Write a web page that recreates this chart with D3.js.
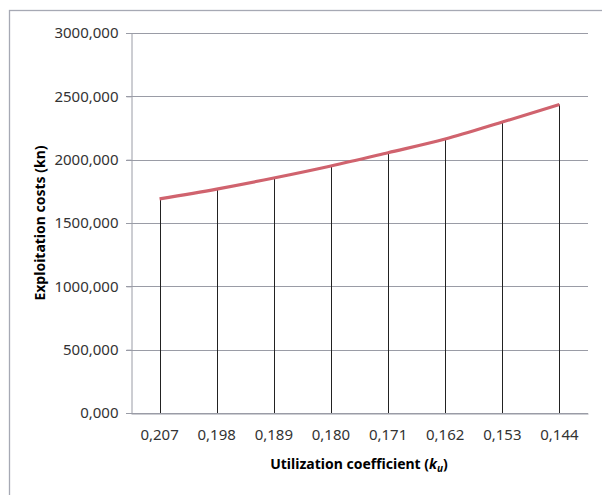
<!DOCTYPE html>
<html>
  <head>
    <meta charset="UTF-8">
    <style>
      body {
        margin: 0;
        background: white;
        font-family: "Noto Sans", sans-serif;
      }
      .title {
        fill: #000;
        font-size: 14px;
        font-weight: bold;
      }
    </style>
    <script src="https://d3js.org/d3.v7.min.js"></script>
  </head>
  <body>
    <svg id="chart"></svg>
    <script type="text/javascript">
      let categories = ['0,207', '0,198', '0,189', '0,180', '0,171', '0,162', '0,153', '0,144']
      let costs = [1690, 1768, 1855, 1950, 2055, 2163, 2297, 2435]
      let yTicks = [0, 500, 1000, 1500, 2000, 2500, 3000]

      let width = 602
      let height = 495
      let margin = { top: 33, left: 131, right: 14, bottom: 82 }

      let svg = d3.select('#chart')
        .attr('width', width)
        .attr('height', height)

      // outer frame
      svg.append('rect')
        .attr('x', 9.5)
        .attr('y', 10.5)
        .attr('width', 620)
        .attr('height', 520)
        .attr('fill', 'none')
        .attr('stroke', '#a6a9b4')
        .attr('stroke-width', 1.3)

      let x = d3.scaleBand()
        .domain(categories)
        .range([margin.left, width - margin.right])

      let y = d3.scaleLinear()
        .domain([0, 3000])
        .range([height - margin.bottom, margin.top])

      let fmt = d => d3.format('.3f')(d).replace('.', ',')

      // gridlines
      svg.append('g')
        .selectAll('line')
        .data(yTicks)
        .enter()
        .append('line')
        .attr('x1', margin.left - 5)
        .attr('x2', width - margin.right)
        .attr('y1', d => Math.round(y(d)) + 0.5)
        .attr('y2', d => Math.round(y(d)) + 0.5)
        .attr('stroke', '#9a9ca6')
        .attr('stroke-width', 1)

      // y axis
      let yAxis = svg.append('g')
        .attr('transform', `translate(${margin.left + 0.5}, 0)`)
        .call(d3.axisLeft(y).tickValues(yTicks).tickFormat(fmt).tickSize(5).tickPadding(8))
      yAxis.attr('font-family', null)
      yAxis.select('.domain').attr('stroke', '#9a9ca6')
      yAxis.selectAll('.tick line').attr('stroke', '#9a9ca6')
      yAxis.selectAll('text').attr('fill', '#333').style('font-size', '15px')

      // x axis
      let xAxis = svg.append('g')
        .attr('transform', `translate(0, ${Math.round(y(0)) + 0.5})`)
        .call(d3.axisBottom(x).tickSize(0).tickPadding(16))
      xAxis.attr('font-family', null)
      xAxis.select('.domain').attr('stroke', '#9a9ca6')
      xAxis.selectAll('text').attr('fill', '#333').style('font-size', '15px')

      // drop lines
      svg.append('g')
        .selectAll('line')
        .data(costs)
        .enter()
        .append('line')
        .attr('x1', (d, i) => Math.round(x(categories[i]) + x.bandwidth() / 2) + 0.5)
        .attr('x2', (d, i) => Math.round(x(categories[i]) + x.bandwidth() / 2) + 0.5)
        .attr('y1', d => y(d))
        .attr('y2', y(0))
        .attr('stroke', '#222')
        .attr('stroke-width', 1)

      // cost line
      let line = d3.line()
        .x((d, i) => x(categories[i]) + x.bandwidth() / 2)
        .y(d => y(d))
        .curve(d3.curveMonotoneX)

      svg.append('path')
        .datum(costs)
        .attr('d', line)
        .attr('fill', 'none')
        .attr('stroke', '#d0636e')
        .attr('stroke-width', 3.2)

      // titles
      svg.append('text')
        .attr('class', 'title')
        .attr('text-anchor', 'middle')
        .attr('transform', `translate(45, ${(margin.top + y(0)) / 2}) rotate(-90)`)
        .text('Exploitation costs (kn)')

      let xt = svg.append('text')
        .attr('class', 'title')
        .attr('text-anchor', 'middle')
        .attr('x', 359)
        .attr('y', 469)
      xt.append('tspan').text('Utilization coefficient (')
      xt.append('tspan').attr('font-style', 'italic').text('k')
      xt.append('tspan').attr('font-style', 'italic').attr('font-size', '10px').attr('dy', 3).text('u')
      xt.append('tspan').attr('dy', -3).text(')')
    </script>
  </body>
</html>
